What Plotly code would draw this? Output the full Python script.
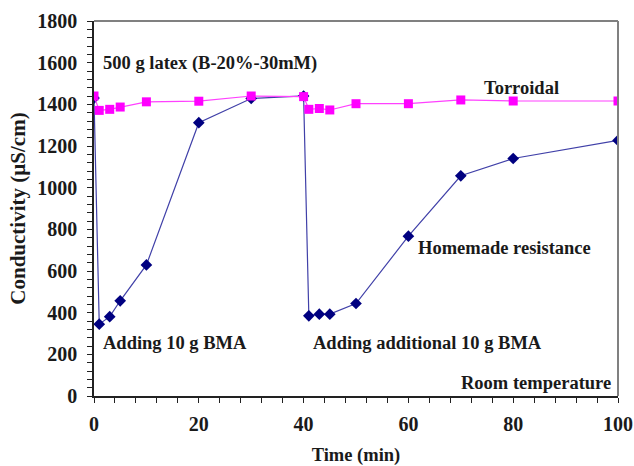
import plotly.graph_objects as go

# Homemade resistance probe
res_time = [0, 1, 3, 5, 10, 20, 30, 40, 41, 43, 45, 50, 60, 70, 80, 100]
res_cond = [1430, 345, 381, 457, 629, 1312, 1428, 1440, 385, 393, 393, 444, 767, 1057, 1140, 1227]

# Torroidal probe
tor_time = [0, 1, 3, 5, 10, 20, 30, 40, 41, 43, 45, 50, 60, 70, 80, 100]
tor_cond = [1440, 1371, 1376, 1387, 1412, 1415, 1440, 1437, 1376, 1380, 1373, 1403, 1403, 1421, 1416, 1416]

x_ticks = [0, 20, 40, 60, 80, 100]
y_ticks = [0, 200, 400, 600, 800, 1000, 1200, 1400, 1600, 1800]

FONT = "Liberation Serif"
INK = "#1a1a1a"

fig = go.Figure()
fig.add_trace(go.Scatter(
    x=res_time, y=res_cond, mode="lines+markers", name="Homemade resistance",
    line=dict(color="#4040a8", width=1.2),
    marker=dict(symbol="diamond", size=9, color="#000080"),
))
fig.add_trace(go.Scatter(
    x=tor_time, y=tor_cond, mode="lines+markers", name="Torroidal",
    line=dict(color="#ff40ff", width=1.2),
    marker=dict(symbol="square", size=9, color="#ff00ff"),
))

axis_common = dict(
    showgrid=False, zeroline=False, showline=True, linecolor="#222222", linewidth=1.5,
    ticks="outside", ticklen=5, tickwidth=1, tickcolor="#222222", automargin=False,
    tickfont=dict(family=FONT, size=20, color=INK),
)

fig.update_xaxes(
    range=[0, 100], tickvals=x_ticks, ticktext=[f"<b>{v}</b>" for v in x_ticks],
    ticklabelstandoff=4,
    minor=dict(dtick=4, ticks="outside", ticklen=5, tickcolor="#222222"),
    title=dict(text="<b>Time (min)</b>", font=dict(family=FONT, size=18.5, color=INK), standoff=17),
    **axis_common,
)
fig.update_yaxes(
    range=[0, 1800], tickvals=y_ticks, ticktext=[f"<b>{v}</b>" for v in y_ticks],
    ticklabelstandoff=6,
    minor=dict(dtick=40, ticks="outside", ticklen=5, tickcolor="#222222"),
    title=dict(text="<b>Conductivity (µS/cm)</b>", font=dict(family=FONT, size=21, color=INK), standoff=6),
    **axis_common,
)

# gray frame on top and right
fig.add_shape(type="line", xref="paper", yref="paper", x0=0, x1=1, y0=1, y1=1,
              line=dict(color="#808080", width=2))
fig.add_shape(type="line", xref="paper", yref="paper", x0=1, x1=1, y0=0, y1=1,
              line=dict(color="#808080", width=2))

def note(text, x, y, anchor="left"):
    fig.add_annotation(x=x, y=y, xref="x", yref="y", text=f"<b>{text}</b>", showarrow=False,
                       xanchor=anchor, yanchor="middle",
                       font=dict(family=FONT, size=18.5, color=INK))

note("500 g latex (B-20%-30mM)", 1.4, 1598)
note("Torroidal", 81.5, 1480, anchor="center")
note("Homemade resistance", 61.5, 712)
note("Adding 10 g BMA", 1.4, 253)
note("Adding additional 10 g BMA", 41.4, 253)
note("Room temperature", 99, 63, anchor="right")

fig.update_layout(
    width=634, height=466, margin=dict(l=94, r=16, t=21, b=70),
    paper_bgcolor="white", plot_bgcolor="white", showlegend=False,
)

fig.write_html("out.html")
